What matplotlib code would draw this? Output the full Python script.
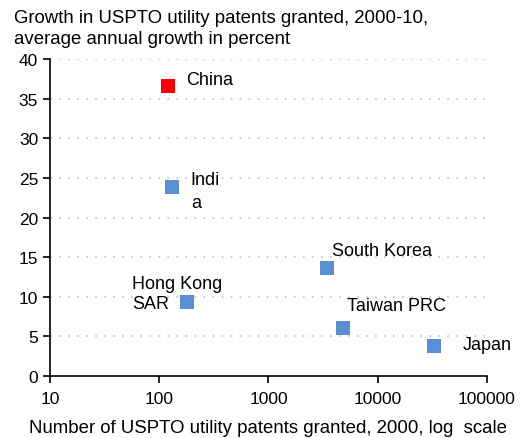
import matplotlib.pyplot as plt

plt.rcParams['font.family'] = ['Liberation Sans', 'DejaVu Sans']

countries = ["China", "India", "Hong Kong SAR", "South Korea", "Taiwan PRC", "Japan"]
patents_2000 = [121, 131, 181, 3400, 4780, 32700]
growth = [36.6, 23.8, 9.3, 13.6, 6.05, 3.8]
colors = ["#ff0000", "#5a8fd6", "#5a8fd6", "#5a8fd6", "#5a8fd6", "#5a8fd6"]
label_text = ["China", "Indi\na", "Hong Kong\nSAR", "South Korea", "Taiwan PRC", "Japan"]
# label offsets in points (dx, dy) and line spacing
label_pos = [(13, 5, 1.2), (13.5, -2.5, 1.5), (-40, 6.5, 1.2), (3.6, 13, 1.2), (3, 16, 1.2), (21, 1, 1.2)]

fig = plt.figure(figsize=(5.24, 4.39), dpi=100)
ax = fig.add_axes([0.0954, 0.1412, 0.8340, 0.7221])

ax.scatter(patents_2000, growth, marker="s", s=100, c=colors, linewidths=0, zorder=3)

for xv, yv, t, (dx, dy, ls) in zip(patents_2000, growth, label_text, label_pos):
    ax.annotate(t, (xv, yv), xytext=(dx, dy), textcoords="offset points",
                ha="left", va="center", fontsize=13, linespacing=ls)

ax.set_xscale("log")
ax.set_xlim(10, 100000)
ax.set_ylim(0, 40)
ax.set_xticks([10, 100, 1000, 10000, 100000])
ax.set_xticklabels(["10", "100", "1000", "10000", "100000"])
ax.minorticks_off()
ax.set_yticks(range(0, 41, 5))
ax.tick_params(labelsize=12.5, direction="out", length=5, width=1.2, color="black")
ax.tick_params(axis="x", pad=6)

for v in range(5, 41, 5):
    ax.axhline(v, color="#c8c8c8", linestyle=(0, (1, 4)), linewidth=1.3, zorder=1)

for s in ["top", "right"]:
    ax.spines[s].set_visible(False)
for s in ["left", "bottom"]:
    ax.spines[s].set_linewidth(1.2)

ax.set_xlabel("Number of USPTO utility patents granted, 2000, log  scale", fontsize=13.4, labelpad=9)
fig.text(0.027, 0.978, "Growth in USPTO utility patents granted, 2000-10,\naverage annual growth in percent",
         ha="left", va="top", fontsize=13.4, linespacing=1.32)

plt.savefig("out.png", dpi=100)
